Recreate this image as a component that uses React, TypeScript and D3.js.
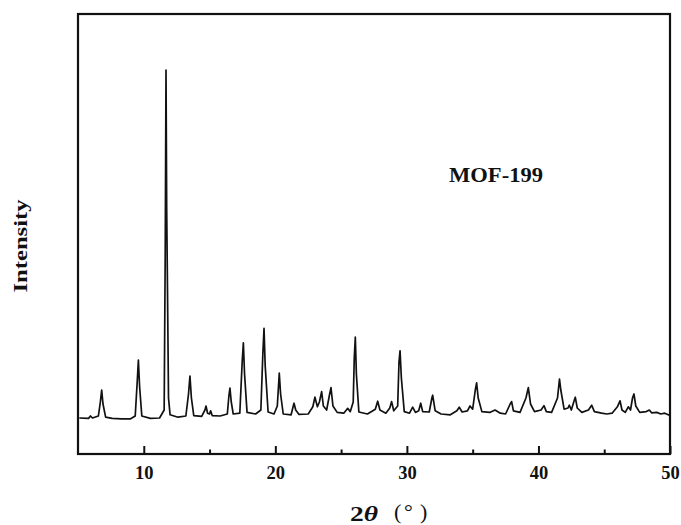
import React, { useRef, useEffect } from "react";
import * as d3 from "d3";

// XRD pattern of MOF-199, [2theta, intensity (a.u.)]
const twoTheta = [
  5.1, 5.8, 5.95, 6.1, 6.55, 6.7, 6.8, 6.9, 7.1, 7.6, 8.3, 9.0, 9.35, 9.5, 9.59, 9.68, 9.85, 10.5, 11.2,
  11.55, 11.63, 11.69, 11.74, 11.8, 11.88, 12.0, 12.6, 13.2, 13.4, 13.51, 13.62, 13.8, 14.4, 14.65, 14.73,
  14.85, 15.0, 15.08, 15.2, 15.8, 16.35, 16.47, 16.55, 16.65, 16.8, 17.3, 17.48, 17.57, 17.66, 17.85, 18.5,
  18.9, 19.05, 19.14, 19.23, 19.45, 19.9, 20.15, 20.3, 20.4, 20.6, 21.2, 21.35, 21.42, 21.55, 21.8, 22.5,
  22.85, 23.01, 23.2, 23.35, 23.52, 23.65, 23.9, 24.1, 24.23, 24.38, 24.7, 25.2, 25.4, 25.5, 25.7, 25.92,
  26.0, 26.08, 26.16, 26.35, 27.0, 27.6, 27.78, 27.95, 28.4, 28.7, 28.84, 29.0, 29.3, 29.4, 29.48, 29.58,
  29.8, 30.2, 30.44, 30.65, 30.9, 31.05, 31.2, 31.7, 31.9, 31.96, 32.15, 32.6, 33.3, 33.8, 33.98, 34.2,
  34.6, 34.8, 35.0, 35.2, 35.3, 35.42, 35.7, 36.3, 36.7, 37.1, 37.5, 37.85, 37.96, 38.1, 38.6, 39.05,
  39.23, 39.4, 39.7, 40.2, 40.42, 40.6, 41.0, 41.45, 41.6, 41.7, 41.95, 42.25, 42.35, 42.5, 42.7, 42.8,
  42.95, 43.3, 43.8, 44.05, 44.25, 44.8, 45.2, 45.6, 46.0, 46.2, 46.35, 46.6, 46.83, 47.0, 47.15, 47.26,
  47.4, 47.7, 48.2, 48.43, 48.6, 49.0, 49.3, 49.6, 50.0,
];
const intensity = [
  90, 89, 95, 90, 95, 130, 160, 125, 92, 89, 88, 88, 95, 180, 235, 170, 95, 89, 90,
  110, 500, 960, 620, 420, 140, 98, 92, 95, 150, 195, 140, 96, 94, 110, 120,
  102, 100, 108, 96, 95, 100, 145, 165, 130, 100, 102, 230, 278, 200, 104, 100,
  110, 250, 314, 220, 105, 100, 120, 202, 150, 100, 98, 118, 127, 110, 99, 100,
  118, 142, 118, 130, 156, 120, 110, 145, 166, 120, 104, 102, 110, 114, 106, 130,
  240, 292, 200, 105, 100, 112, 132, 110, 102, 115, 131, 108, 120, 230, 258, 190,
  106, 102, 117, 104, 108, 127, 106, 105, 140, 147, 108, 100, 98, 108, 117, 105,
  108, 120, 112, 160, 178, 140, 106, 104, 110, 102, 100, 125, 131, 108, 104, 140,
  166, 125, 106, 110, 121, 106, 104, 140, 187, 160, 112, 115, 122, 110, 132, 142,
  115, 104, 110, 122, 106, 102, 100, 102, 118, 133, 110, 104, 118, 110, 140, 150,
  120, 104, 106, 110, 103, 104, 100, 102, 96,
];
const majorTicks = [10, 20, 30, 40, 50];
const minorTicks = [15, 25, 35, 45];

function App() {
  const svgRef = useRef<SVGSVGElement>(null);

  useEffect(() => {
    const width = 681, height = 525;
    const margin = { top: 14, right: 11, bottom: 71, left: 78 };
    const serif = "'Liberation Serif', 'Times New Roman', serif";

    const data = twoTheta.map((t, i) => ({ t, v: intensity[i] }));

    const x = d3.scaleLinear().domain([5, 50]).range([margin.left, width - margin.right]);
    const y = d3.scaleLinear().domain([0, 1100]).range([height - margin.bottom, margin.top]);

    const svg = d3.select(svgRef.current);
    svg.selectAll("*").remove();
    svg.attr("width", width).attr("height", height);

    svg.append("path")
      .datum(data)
      .attr("fill", "none")
      .attr("stroke", "#111")
      .attr("stroke-width", 1.7)
      .attr("stroke-linejoin", "round")
      .attr("d", d3.line<{ t: number; v: number }>().x(d => x(d.t)).y(d => y(d.v)));

    const bottom = height - margin.bottom;

    const xAxis = svg.append("g")
      .attr("transform", `translate(0, ${bottom})`)
      .call(d3.axisBottom(x).tickValues(majorTicks).tickSize(-8).tickPadding(11.5).tickFormat(d3.format("d")));
    xAxis.select(".domain").remove();
    xAxis.selectAll("line").attr("stroke", "#111").attr("stroke-width", 2);
    xAxis.selectAll("text")
      .attr("fill", "#111")
      .attr("textLength", 18.5)
      .attr("lengthAdjust", "spacingAndGlyphs")
      .style("font-family", serif)
      .style("font-weight", "bold")
      .style("font-size", "19px");

    const xMinor = svg.append("g")
      .attr("transform", `translate(0, ${bottom})`)
      .call(d3.axisBottom(x).tickValues(minorTicks).tickSize(-4.5).tickFormat(() => ""));
    xMinor.select(".domain").remove();
    xMinor.selectAll("line").attr("stroke", "#111").attr("stroke-width", 2);

    // frame
    svg.append("rect")
      .attr("x", margin.left)
      .attr("y", margin.top)
      .attr("width", width - margin.left - margin.right)
      .attr("height", bottom - margin.top)
      .attr("fill", "none")
      .attr("stroke", "#111")
      .attr("stroke-width", 2.2);

    svg.append("text")
      .attr("transform", `translate(27, 246) rotate(-90)`)
      .attr("text-anchor", "middle")
      .attr("textLength", 93)
      .attr("lengthAdjust", "spacingAndGlyphs")
      .style("font-family", serif)
      .style("font-weight", "bold")
      .style("font-size", "19px")
      .attr("fill", "#111")
      .text("Intensity");

    // x label: 2θ（°）
    svg.append("text")
      .attr("x", 350)
      .attr("y", 521)
      .attr("textLength", 28)
      .attr("lengthAdjust", "spacingAndGlyphs")
      .style("font-family", serif)
      .style("font-weight", "bold")
      .style("font-size", "22px")
      .attr("fill", "#111")
      .call(t => {
        t.append("tspan").text("2");
        t.append("tspan").style("font-style", "italic").text("θ");
      });
    const unit = svg.append("g")
      .style("font-family", serif)
      .style("font-size", "22px")
      .attr("fill", "#111");
    unit.append("text").attr("x", 394).attr("y", 519).text("(");
    unit.append("text").attr("x", 404).attr("y", 519).text("°");
    unit.append("text").attr("x", 420).attr("y", 519).text(")");

    svg.append("text")
      .attr("x", 449)
      .attr("y", 182)
      .attr("textLength", 94)
      .attr("lengthAdjust", "spacingAndGlyphs")
      .style("font-family", serif)
      .style("font-weight", "bold")
      .style("font-size", "20px")
      .attr("fill", "#111")
      .text("MOF-199");
  }, []);

  return (
    <div style={{ position: "absolute", left: 0, top: 0 }}>
      <svg ref={svgRef}></svg>
    </div>
  );
}

export default App;
